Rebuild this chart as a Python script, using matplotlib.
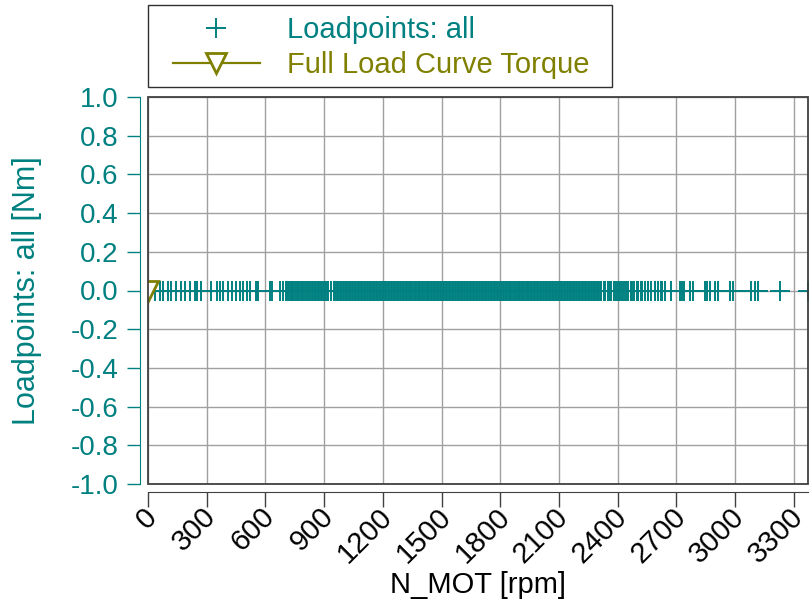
import matplotlib
matplotlib.use("Agg")
import matplotlib.pyplot as plt
from matplotlib.patches import Rectangle
from matplotlib.transforms import ScaledTranslation

plt.rcParams['font.family'] = ['Liberation Sans', 'DejaVu Sans']

TEAL = '#008080'
OLIVE = '#808000'

# Loadpoints: all (speed in rpm, torque in Nm)
speed_low = [34, 60, 77, 102, 120, 145, 171, 191, 213, 240, 248, 273, 324, 350,
             367, 384, 410, 427, 452, 469, 486, 504, 521, 552, 558, 563, 623,
             635, 674, 690]
speed_mid = [705, 712, 721, 730, 736, 742, 751, 760, 766, 777, 785, 794, 800,
             811, 818, 828, 836, 845, 851, 858, 866, 874, 882, 890, 897, 905,
             913, 921, 935, 950, 957, 965, 972, 980, 988, 995, 1003, 1011, 1019,
             1026, 1034, 1041, 1049, 1057, 1064, 1072, 1080, 1087, 1095, 1102,
             1110, 1118, 1125, 1133, 1141, 1148, 1156, 1163, 1171, 1179, 1186,
             1194, 1202, 1209, 1217, 1224, 1232, 1240, 1247, 1255, 1263, 1270,
             1278, 1285, 1293, 1301, 1308, 1316, 1324, 1331, 1339, 1346, 1354,
             1362, 1369, 1377, 1385, 1392, 1400, 1407, 1415, 1423, 1430, 1438,
             1446, 1453, 1461, 1468, 1476, 1484, 1491, 1499, 1507, 1514, 1522,
             1529, 1537, 1545, 1552, 1560, 1568, 1575, 1583, 1590, 1598, 1606,
             1613, 1621, 1629, 1636, 1644, 1651, 1659, 1667, 1674, 1682, 1690,
             1697, 1705, 1712, 1720, 1728, 1735, 1743, 1751, 1758, 1766, 1773,
             1781, 1789, 1796, 1804, 1812, 1819, 1827, 1834, 1842, 1850, 1857,
             1865, 1873, 1880, 1888, 1895, 1903, 1911, 1918, 1926, 1934, 1941,
             1949, 1956, 1964, 1972, 1979, 1987, 1995, 2002, 2010, 2017, 2025,
             2033, 2040, 2048, 2056, 2063, 2071, 2078, 2086, 2094, 2101, 2109,
             2117, 2124, 2132, 2139, 2147, 2155, 2162, 2170, 2178, 2185, 2193,
             2200, 2208, 2216, 2223, 2231, 2239, 2246, 2254, 2262, 2270, 2278,
             2286, 2293, 2301, 2309, 2316]
speed_high = [2330, 2336, 2349, 2362, 2368, 2383, 2392, 2400, 2414, 2420, 2434,
              2441, 2451, 2466, 2472, 2485, 2500, 2505, 2520, 2526, 2537, 2552,
              2557, 2571, 2588, 2592, 2605, 2620, 2625, 2639, 2673, 2716, 2728,
              2741, 2767, 2784, 2844, 2856, 2869, 2895, 2912, 2972, 2989, 3083,
              3100, 3117, 3228, 3372]
load_speed = speed_low + speed_mid + speed_high
load_torque = [0.0] * len(load_speed)

# Full Load Curve Torque
flc_speed = [0]
flc_torque = [0.0]

x_ticks = [0, 300, 600, 900, 1200, 1500, 1800, 2100, 2400, 2700, 3000, 3300]
y_ticks = [-1.0, -0.8, -0.6, -0.4, -0.2, 0.0, 0.2, 0.4, 0.6, 0.8, 1.0]
y_ticklabels = ['%.1f' % v for v in y_ticks]
x_max = 3372

W, H = 811, 605
fig = plt.figure(figsize=(W / 100, H / 100), dpi=100)
ax = fig.add_axes([148 / W, 1 - 484 / H, 660 / W, 387 / H])

ax.plot(load_speed, load_torque, linestyle='none', marker='+', color=TEAL,
        markersize=14, mew=1.4, label='Loadpoints: all', zorder=3)
ax.plot(flc_speed, flc_torque, color=OLIVE, lw=1.6, marker='v', markersize=14,
        mfc='white', mec=OLIVE, mew=2.0, label='Full Load Curve Torque', zorder=4)

ax.set_xlim(0, x_max)
ax.set_ylim(-1.0, 1.0)
ax.set_xticks(x_ticks)
ax.set_xticklabels([str(v) for v in x_ticks])
ax.set_yticks(y_ticks)
ax.set_yticklabels(y_ticklabels)

ax.grid(True, color='#a0a0a0', lw=1.0, zorder=0)
ax.set_axisbelow(True)

for s in ['top', 'right']:
    ax.spines[s].set_visible(False)
ax.spines['left'].set_position(('outward', 6))
ax.spines['left'].set_bounds(-1.0, 1.0)
ax.spines['left'].set_color(TEAL)
ax.spines['bottom'].set_position(('outward', 6))
ax.spines['bottom'].set_bounds(0, x_max)
ax.spines['bottom'].set_color('#404040')

ax.add_patch(Rectangle((0, 0), 1, 1, transform=ax.transAxes, fill=False,
                       ec='#404040', lw=1.3, clip_on=False, zorder=5))

ax.tick_params(axis='y', colors=TEAL, labelsize=20, length=9.5, width=1, pad=6)
ax.tick_params(axis='x', colors='#404040', labelcolor='black', labelsize=21,
               length=11, width=1)
for lab in ax.get_xticklabels():
    lab.set_rotation(45)
    lab.set_rotation_mode('anchor')
    lab.set_ha('right')
    lab.set_va('center')
    lab.set_transform(lab.get_transform() + ScaledTranslation(5 / 100, 0, fig.dpi_scale_trans))

ax.set_xlabel('N_MOT [rpm]', fontsize=21, color='black', labelpad=2)
ax.set_ylabel('Loadpoints: all [Nm]', fontsize=22, color=TEAL, labelpad=20)

leg = ax.legend(loc='upper left', bbox_to_anchor=(173 / W, 1 - 16 / H),
                bbox_transform=fig.transFigure, borderaxespad=0, borderpad=0,
                fontsize=21, frameon=False, handlelength=2.98,
                handletextpad=0.92, labelspacing=0.25)
for txt, col in zip(leg.get_texts(), [TEAL, OLIVE]):
    txt.set_color(col)
fig.patches.append(Rectangle((148 / W, 1 - 87 / H), 464 / W, 82 / H,
                             transform=fig.transFigure, fill=False,
                             ec='#303030', lw=1.0))

fig.savefig('out.png', dpi=100)
